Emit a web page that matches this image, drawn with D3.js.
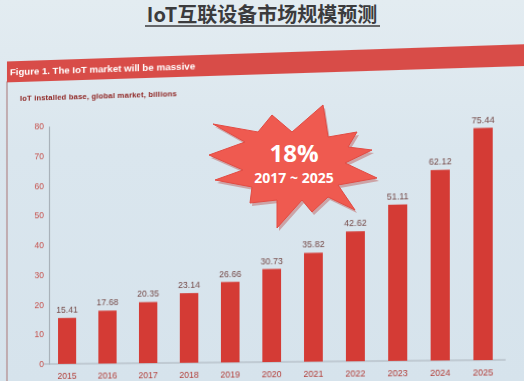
<!DOCTYPE html>
<html>
<head>
<meta charset="utf-8">
<script src="https://cdn.jsdelivr.net/npm/d3@7"></script>
<style>
  html, body { margin: 0; padding: 0; }
  html { background: #dae6ee; }
  body { width: 524px; height: 381px; overflow: hidden; position: relative;
         background: linear-gradient(180deg, #e3ecf1 0%, #dae6ee 40%, #d6e3ec 100%); }
  .layer { position: absolute; left: 0; top: 0; height: 381px; }
  #chart { width: 506px; transform-origin: 0 0; }
  #overlay { width: 524px; }
  svg { display: block; }
</style>
</head>
<body>
<div id="overlay" class="layer"></div>
<div id="chart" class="layer"></div>
<script>
(function(){

  var years = ['2015', '2016', '2017', '2018', '2019', '2020', '2021', '2022', '2023', '2024', '2025'];
  var installedBase = [15.41, 17.68, 20.35, 23.14, 26.66, 30.73, 35.82, 42.62, 51.11, 62.12, 75.44];
  var yTicks = [0, 10, 20, 30, 40, 50, 60, 70, 80];

  var pageTitle = 'IoT互联设备市场规模预测';
  var figureTitle = 'Figure 1. The IoT market will be massive';
  var subTitle = 'IoT installed base, global market, billions';
  var burstBig = '18%';
  var burstSmall = '2017 ~ 2025';

  var width = 524, height = 381,
    chartWidth = 506;

  // flat layer underneath: page title and the starburst
  var over = d3.select('#overlay')
    .append('svg')
    .attr('width', width)
    .attr('height', height);

  over.append('text')
    .attr('x', 262).attr('y', 22)
    .attr('text-anchor', 'middle')
    .attr('fill', '#3b3b3d')
    .attr('font-size', 20)
    .attr('font-weight', 'bold')
    .style('font-family', '"Noto Sans CJK SC", "Noto Sans", sans-serif')
    .text(pageTitle);

  over.append('line')
    .attr('x1', 145).attr('x2', 380)
    .attr('y1', 26).attr('y2', 26)
    .attr('stroke', '#3b3b3d')
    .attr('stroke-width', 1.6);

  // outline of the burst, tips and notches alternating, relative to its centre
  var burstCx = 292, burstCy = 166;
  var burstOutline = [
    [31, -61], [36, -29], [65, -34], [56, -19], [80, -16], [53, -3],
    [85, 12], [46, 19], [63, 44], [36, 31], [20, 46], [10, 34],
    [-15, 62], [-15, 34], [-42, 37], [-40, 21], [-77, 14], [-49, 4],
    [-83, -11], [-47, -24], [-79, -42], [-34, -34], [-20, -51], [0, -34]
  ];
  var burstLine = d3.line()
    .x(function(p){ return burstCx + p[0]; })
    .y(function(p){ return burstCy + p[1]; })
    .curve(d3.curveLinearClosed);

  over.append('path')
    .attr('d', burstLine(burstOutline))
    .attr('transform', 'translate(2,3)')
    .attr('fill', '#b9413d')
    .attr('opacity', 0.4);

  over.append('path')
    .attr('d', burstLine(burstOutline))
    .attr('fill', '#ef5a50')
    .attr('stroke', '#e24b43')
    .attr('stroke-width', 1);

  over.append('text')
    .attr('x', 294).attr('y', 162)
    .attr('text-anchor', 'middle')
    .attr('fill', '#fff')
    .attr('font-size', 24)
    .attr('font-weight', 'bold')
    .style('font-family', '"Open Sans", "Noto Sans", sans-serif')
    .text(burstBig);

  over.append('text')
    .attr('x', 294).attr('y', 183)
    .attr('text-anchor', 'middle')
    .attr('fill', '#fff')
    .attr('font-size', 14)
    .attr('font-weight', 'bold')
    .style('font-family', '"Open Sans", "Noto Sans", sans-serif')
    .text(burstSmall);

  // the photo looks at the screen a bit from the left: fake it with a perspective
  var k = 8e-5, h = 478, x0 = 51;
  d3.select('#chart').style('transform', 'matrix3d(' + [
    1, -h * k, 0, -k,
    0, 1, 0, 0,
    0, 0, 1, 0,
    0, h * k * x0, 0, 1 + k * x0
  ].join(',') + ')');

  var svg = d3.select('#chart')
    .append('svg')
    .attr('width', chartWidth)
    .attr('height', height)
    .style('font-family', '"Liberation Sans", Arial, sans-serif');

  // chart frame + red banner
  svg.append('line')
    .attr('x1', 7).attr('x2', 7)
    .attr('y1', 80).attr('y2', height)
    .attr('stroke', '#b89a9c')
    .attr('stroke-width', 1.5);

  svg.append('rect')
    .attr('x', 7).attr('y', 60)
    .attr('width', chartWidth - 7).attr('height', 21)
    .attr('fill', '#d84c48');

  svg.append('text')
    .attr('x', 10).attr('y', 74)
    .attr('fill', '#fff')
    .attr('font-size', 9.6)
    .attr('font-weight', 'bold')
    .attr('textLength', 183)
    .text(figureTitle);

  svg.append('text')
    .attr('x', 20).attr('y', 100)
    .attr('fill', '#8e2422')
    .attr('font-size', 7.6)
    .attr('font-weight', 'bold')
    .attr('textLength', 155)
    .text(subTitle);

  var x = d3.scaleBand()
    .domain(years)
    .range([36, 498])
    .padding(0.55);

  var y = d3.scaleLinear()
    .domain([0, 80])
    .range([364, 126]);

  var yAxis = svg.append('g')
    .attr('transform', 'translate(49,0)')
    .call(d3.axisLeft(y).tickValues(yTicks).tickSize(0).tickPadding(5));
  yAxis.select('.domain').attr('stroke', '#a9b2ba').attr('stroke-width', 1.2);
  yAxis.selectAll('text')
    .attr('fill', '#c5504b')
    .attr('font-size', 8.5)
    .style('font-family', '"Liberation Sans", Arial, sans-serif');

  var xAxis = svg.append('g')
    .attr('transform', 'translate(0,364)')
    .call(d3.axisBottom(x).tickSize(0).tickPadding(9));
  xAxis.select('.domain').remove();
  xAxis.selectAll('text')
    .attr('fill', '#b23d38')
    .attr('font-size', 8.5)
    .style('font-family', '"Liberation Sans", Arial, sans-serif');

  svg.append('line')
    .attr('x1', 44).attr('x2', 488)
    .attr('y1', y(0)).attr('y2', y(0))
    .attr('stroke', '#a9b2ba')
    .attr('stroke-width', 1.2);

  var bars = svg.selectAll('.bar')
    .data(installedBase)
    .enter().append('g')
    .attr('class', 'bar');

  bars.append('rect')
    .attr('x', function(d, i){ return x(years[i]); })
    .attr('y', function(d){ return y(d); })
    .attr('width', x.bandwidth())
    .attr('height', function(d){ return y(0) - y(d); })
    .attr('fill', '#d43b35');

  bars.append('text')
    .attr('x', function(d, i){ return x(years[i]) + x.bandwidth() / 2; })
    .attr('y', function(d){ return y(d) - 5; })
    .attr('text-anchor', 'middle')
    .attr('fill', '#744947')
    .attr('font-size', 8.5)
    .text(function(d){ return d.toFixed(2); });

}());
</script>
</body>
</html>
